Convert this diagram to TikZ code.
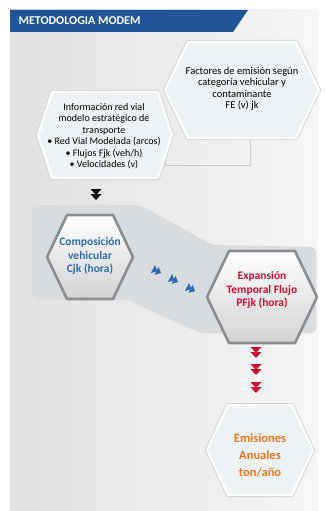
\documentclass[tikz,border=0pt]{standalone}
\usepackage{fontspec}
\setmainfont{Carlito}
\usepackage{tikz}

\definecolor{bannerblue}{HTML}{1F5597}
\definecolor{hexfill}{HTML}{EDF2F4}
\definecolor{bandgray}{HTML}{D9DCDF}
\definecolor{metaldraw}{HTML}{8A8E92}
\definecolor{compblue}{HTML}{2B6CB0}
\definecolor{expred}{HTML}{C8102E}
\definecolor{emisorange}{HTML}{E8771E}

% hexagon: style, cx, cy, half width, half height, slant
\newcommand{\hexcell}[6]{%
  \draw[#1] (#2-#4,#3) -- (#2-#4+#6,#3-#5) -- (#2+#4-#6,#3-#5) -- (#2+#4,#3)
    -- (#2+#4-#6,#3+#5) -- (#2-#4+#6,#3+#5) -- cycle;}

\tikzset{
  lighthex/.style={fill=hexfill, draw=white, line width=2.2pt, line join=round,
    preaction={draw=gray!35, line width=4pt, line join=round}},
  darkhex/.style={top color=white, bottom color=gray!35, draw=metaldraw,
    line width=2.6pt, line join=round},
  smalltext/.style={align=center, font=\fontsize{10}{11.5}\selectfont},
  bigtext/.style={align=center, font=\bfseries\fontsize{11.5}{13.5}\selectfont},
  faintline/.style={draw=gray!40, line width=0.6pt},
  dblarrow/.pic={
    \fill (-5.5,0) -- (5.5,0) -- (0,6) -- cycle;
    \fill (-5.5,5) -- (5.5,5) -- (0,11) -- cycle;
  },
  dblblue/.pic={
    \fill[compblue] (0,-4.5) -- (0,4.5) -- (5,0) -- cycle;
    \fill[compblue] (4,-4.5) -- (4,4.5) -- (9,0) -- cycle;
  }
}

\begin{document}
\begin{tikzpicture}[x=1pt, y=-1pt]
\useasboundingbox (0,0) rectangle (324,511);
\fill[white] (0,0) rectangle (324,511);

% panel and title
\shade[left color=gray!24, right color=gray!7] (10,10) rectangle (318,510);
\fill[bannerblue] (10,10) -- (248,10) -- (233,32) -- (10,32) -- cycle;
\node[anchor=west, text=white, font=\bfseries\fontsize{12}{12}\selectfont] (title) at (15,21) {METODOLOGIA MODEM};

% gray band
\fill[bandgray, rounded corners=5pt] (32,205) -- (140,205) -- (213,245) -- (316,247)
  -- (316,333) -- (200,333) -- (127,300) -- (32,300) -- cycle;

% connector between upper boxes
\coordinate (fe-a) at (250,136);
\coordinate (fe-b) at (250,165);
\coordinate (in-b) at (165,165);
\coordinate (in-a) at (165,136);
\draw[faintline] (fe-a) -- (fe-b) -- (in-b) -- (in-a);

% upper boxes
\hexcell{lighthex}{242}{90}{77}{48}{23}
\node[smalltext, font=\fontsize{10.5}{11.5}\selectfont] (factores) at (242,89) {Factores de emisión según\\categoría vehicular y\\contaminante\\FE (v) jk};

\hexcell{lighthex}{105}{135}{67}{43}{14}
\node[smalltext] (info) at (104,136) {Información red vial\\modelo estratégico de\\transporte\\• Red Vial Modelada (arcos)\\• Flujos Fjk (veh/h)\\• Velocidades (v)};

\pic[black] at (96,189) {dblarrow};

% middle boxes
\hexcell{darkhex}{90}{257}{43}{42}{20}
\node[bigtext, text=compblue] (comp) at (90,256) {Composición\\vehicular\\Cjk (hora)};

\pic[rotate=-27] at (153,269) {dblblue};
\pic[rotate=-27] at (170,278) {dblblue};
\pic[rotate=-27] at (187,287) {dblblue};

\hexcell{darkhex}{262}{297}{55}{46}{22}
\node[bigtext, text=expred] (expan) at (262,290) {Expansión\\Temporal Flujo\\PFjk (hora)};

\pic[expred] at (256,347) {dblarrow};
\pic[expred] at (256,364) {dblarrow};
\pic[expred] at (256,382) {dblarrow};

% result
\hexcell{lighthex}{260}{450}{53}{45}{21}
\node[align=center, text=emisorange, font=\bfseries\fontsize{12.5}{17}\selectfont] (emis) at (260,455) {Emisiones\\Anuales\\ton/año};
\end{tikzpicture}
\end{document}
